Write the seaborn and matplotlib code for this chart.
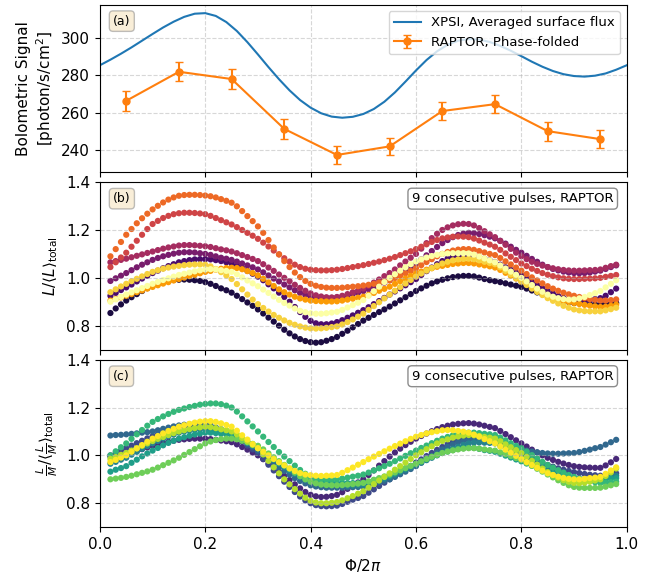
import numpy as np
import pandas as pd
import matplotlib
matplotlib.use("Agg")
import matplotlib.pyplot as plt
import seaborn as sns

# ---- panel (a): bolometric signal ----
xpsi_phase = np.round(np.arange(0.0, 1.001, 0.02), 2)
xpsi_flux = [285.4, 288.4, 291.6, 295.0, 298.6, 302.2, 305.7, 308.8, 311.4, 313.1,
             313.4, 311.9, 308.6, 303.8, 297.8, 291.2, 284.4, 277.9, 271.9, 266.7,
             262.6, 259.6, 257.8, 257.2, 257.7, 259.2, 261.9, 265.8, 270.8, 276.6,
             282.6, 288.2, 292.9, 296.4, 298.6, 299.5, 299.2, 297.9, 295.8, 293.2,
             290.3, 287.3, 284.6, 282.3, 280.6, 279.6, 279.3, 279.8, 281.0, 283.0,
             285.4]

raptor_phase = [0.05, 0.15, 0.25, 0.35, 0.45, 0.55, 0.65, 0.75, 0.85, 0.95]
raptor_flux = [266.3, 281.9, 278.0, 251.2, 237.2, 241.8, 260.8, 264.5, 250.0, 245.7]
raptor_err = [5.3, 5.0, 5.3, 5.5, 4.9, 4.5, 4.8, 4.8, 5.1, 5.0]

# ---- panels (b), (c): 9 consecutive pulses ----
pulse_phase = np.round(np.arange(0.02, 0.985, 0.01), 2)

lum_p1 = [0.853, 0.872, 0.889,
          0.905, 0.919, 0.932, 0.945, 0.957, 0.968, 0.976, 0.983, 0.988, 0.991,
          0.992, 0.993, 0.992, 0.99, 0.987, 0.982, 0.975, 0.966, 0.956, 0.948,
          0.938, 0.925, 0.911, 0.897, 0.883, 0.868, 0.851, 0.834, 0.817, 0.8,
          0.783, 0.768, 0.755, 0.744, 0.736, 0.731, 0.729, 0.731, 0.737, 0.744,
          0.753, 0.766, 0.779, 0.793, 0.807, 0.821, 0.833, 0.845, 0.857, 0.868,
          0.88, 0.893, 0.906, 0.919, 0.932, 0.945, 0.956, 0.967, 0.977, 0.985,
          0.992, 0.998, 1.003, 1.006, 1.008, 1.008, 1.006, 1.001, 0.995, 0.99,
          0.986, 0.982, 0.977, 0.972, 0.967, 0.962, 0.955, 0.947, 0.939, 0.931,
          0.923, 0.916, 0.909, 0.903, 0.899, 0.895, 0.893, 0.891, 0.89, 0.889,
          0.889, 0.89, 0.892, 0.895]
lum_p2 = [0.925, 0.937, 0.949,
          0.96, 0.972, 0.985, 0.997, 1.009, 1.02, 1.03, 1.04, 1.049, 1.057,
          1.065, 1.07, 1.074, 1.077, 1.078, 1.078, 1.077, 1.074, 1.07, 1.065,
          1.06, 1.052, 1.041, 1.029, 1.017, 1.005, 0.99, 0.973, 0.956, 0.938,
          0.92, 0.9, 0.878, 0.857, 0.837, 0.82, 0.81, 0.806, 0.806, 0.809,
          0.815, 0.823, 0.833, 0.843, 0.854, 0.865, 0.877, 0.89, 0.903, 0.916,
          0.93, 0.943, 0.956, 0.969, 0.982, 0.995, 1.012, 1.028, 1.043, 1.057,
          1.07, 1.08, 1.088, 1.093, 1.095, 1.095, 1.093, 1.087, 1.08, 1.073,
          1.065, 1.055, 1.044, 1.033, 1.021, 1.01, 0.996, 0.983, 0.97, 0.957,
          0.945, 0.934, 0.924, 0.916, 0.91, 0.905, 0.903, 0.904, 0.907, 0.911,
          0.915, 0.925, 0.94, 0.955]
lum_p3 = [0.987, 0.998, 1.009,
          1.02, 1.032, 1.044, 1.055, 1.065, 1.075, 1.083, 1.09, 1.096, 1.101,
          1.105, 1.107, 1.107, 1.106, 1.103, 1.10, 1.096, 1.09, 1.084, 1.08,
          1.075, 1.068, 1.06, 1.052, 1.044, 1.035, 1.023, 1.01, 0.997, 0.985,
          0.972, 0.96, 0.948, 0.937, 0.928, 0.922, 0.918, 0.916, 0.915, 0.916,
          0.918, 0.921, 0.926, 0.932, 0.938, 0.945, 0.953, 0.962, 0.971, 0.98,
          0.99, 1.003, 1.017, 1.031, 1.045, 1.06, 1.077, 1.094, 1.112, 1.129,
          1.145, 1.158, 1.17, 1.179, 1.185, 1.188, 1.187, 1.183, 1.178, 1.172,
          1.165, 1.155, 1.143, 1.13, 1.117, 1.105, 1.092, 1.079, 1.067, 1.055,
          1.045, 1.037, 1.031, 1.026, 1.022, 1.02, 1.019, 1.02, 1.022, 1.026,
          1.03, 1.037, 1.045, 1.052]
lum_p4 = [1.065, 1.07, 1.075,
          1.08, 1.086, 1.092, 1.098, 1.104, 1.11, 1.116, 1.122, 1.127, 1.131,
          1.135, 1.137, 1.137, 1.136, 1.134, 1.132, 1.129, 1.124, 1.119, 1.115,
          1.11, 1.103, 1.095, 1.087, 1.079, 1.07, 1.057, 1.043, 1.029, 1.014,
          1.0, 0.986, 0.971, 0.958, 0.946, 0.935, 0.927, 0.922, 0.919, 0.918,
          0.92, 0.925, 0.932, 0.94, 0.947, 0.955, 0.967, 0.98, 0.993, 1.007,
          1.02, 1.035, 1.052, 1.068, 1.084, 1.1, 1.122, 1.145, 1.166, 1.184,
          1.2, 1.211, 1.219, 1.224, 1.226, 1.225, 1.219, 1.208, 1.195, 1.182,
          1.17, 1.154, 1.138, 1.121, 1.105, 1.09, 1.078, 1.067, 1.058, 1.051,
          1.045, 1.04, 1.036, 1.033, 1.031, 1.03, 1.03, 1.031, 1.032, 1.033,
          1.035, 1.042, 1.049, 1.055]
lum_p5 = [1.045, 1.065, 1.085,
          1.105, 1.13, 1.155, 1.18, 1.204, 1.225, 1.238, 1.25, 1.259, 1.266,
          1.27, 1.272, 1.272, 1.271, 1.269, 1.266, 1.259, 1.25, 1.241, 1.232,
          1.223, 1.212, 1.2, 1.188, 1.176, 1.163, 1.147, 1.131, 1.114, 1.098,
          1.082, 1.068, 1.055, 1.045, 1.038, 1.034, 1.032, 1.031, 1.031, 1.032,
          1.034, 1.037, 1.041, 1.045, 1.049, 1.053, 1.058, 1.063, 1.068, 1.074,
          1.08, 1.087, 1.095, 1.103, 1.111, 1.12, 1.13, 1.14, 1.15, 1.158,
          1.165, 1.169, 1.172, 1.173, 1.172, 1.17, 1.164, 1.156, 1.147, 1.139,
          1.13, 1.117, 1.102, 1.088, 1.074, 1.06, 1.049, 1.038, 1.029, 1.02,
          1.013, 1.007, 1.002, 0.998, 0.996, 0.995, 0.995, 0.996, 0.997, 0.998,
          1.0, 1.004, 1.008, 1.012]
lum_p6 = [1.09, 1.12, 1.15,
          1.18, 1.204, 1.228, 1.249, 1.268, 1.286, 1.301, 1.315, 1.327, 1.336,
          1.343, 1.346, 1.347, 1.347, 1.346, 1.344, 1.341, 1.336, 1.329, 1.322,
          1.314, 1.299, 1.279, 1.258, 1.237, 1.215, 1.188, 1.158, 1.127, 1.098,
          1.07, 1.045, 1.022, 1.003, 0.987, 0.975, 0.967, 0.962, 0.959, 0.958,
          0.958, 0.959, 0.961, 0.963, 0.965, 0.968, 0.971, 0.975, 0.98, 0.985,
          0.99, 0.999, 1.009, 1.019, 1.029, 1.04, 1.053, 1.066, 1.078, 1.09,
          1.10, 1.108, 1.114, 1.118, 1.12, 1.12, 1.117, 1.112, 1.106, 1.1,
          1.095, 1.083, 1.069, 1.056, 1.043, 1.03, 1.016, 1.002, 0.989, 0.977,
          0.965, 0.955, 0.946, 0.938, 0.931, 0.925, 0.92, 0.915, 0.911, 0.908,
          0.905, 0.905, 0.907, 0.91]
lum_p7 = [0.905, 0.912, 0.918,
          0.925, 0.932, 0.94, 0.947, 0.955, 0.962, 0.969, 0.976, 0.982, 0.989,
          0.995, 1.001, 1.007, 1.013, 1.019, 1.025, 1.029, 1.034, 1.038, 1.041,
          1.042, 1.041, 1.036, 1.028, 1.02, 1.01, 0.996, 0.981, 0.966, 0.952,
          0.94, 0.93, 0.921, 0.914, 0.909, 0.905, 0.903, 0.902, 0.901, 0.901,
          0.902, 0.905, 0.909, 0.913, 0.917, 0.921, 0.929, 0.937, 0.946, 0.954,
          0.963, 0.975, 0.986, 0.997, 1.008, 1.018, 1.026, 1.034, 1.04, 1.046,
          1.05, 1.054, 1.058, 1.06, 1.062, 1.062, 1.06, 1.056, 1.052, 1.048,
          1.043, 1.033, 1.021, 1.009, 0.997, 0.985, 0.973, 0.961, 0.948, 0.936,
          0.925, 0.917, 0.909, 0.903, 0.899, 0.895, 0.891, 0.887, 0.884, 0.881,
          0.878, 0.879, 0.883, 0.888]
lum_p8 = [0.94, 0.952, 0.964,
          0.975, 0.986, 0.996, 1.006, 1.016, 1.025, 1.032, 1.038, 1.043, 1.047,
          1.05, 1.053, 1.055, 1.056, 1.056, 1.055, 1.048, 1.037, 1.024, 1.01,
          0.995, 0.974, 0.952, 0.93, 0.909, 0.89, 0.874, 0.859, 0.845, 0.833,
          0.822, 0.812, 0.804, 0.797, 0.792, 0.789, 0.788, 0.789, 0.791, 0.794,
          0.797, 0.805, 0.815, 0.826, 0.838, 0.85, 0.866, 0.882, 0.898, 0.914,
          0.93, 0.946, 0.961, 0.976, 0.991, 1.005, 1.018, 1.03, 1.041, 1.051,
          1.06, 1.067, 1.073, 1.077, 1.079, 1.08, 1.078, 1.073, 1.067, 1.062,
          1.057, 1.044, 1.029, 1.014, 0.999, 0.985, 0.97, 0.955, 0.941, 0.928,
          0.915, 0.904, 0.893, 0.883, 0.875, 0.868, 0.864, 0.861, 0.86, 0.86,
          0.86, 0.864, 0.869, 0.875]
lum_p9 = [0.9, 0.91, 0.92,
          0.93, 0.939, 0.948, 0.957, 0.966, 0.975, 0.983, 0.991, 0.998, 1.005,
          1.012, 1.017, 1.022, 1.027, 1.031, 1.035, 1.036, 1.035, 1.032, 1.029,
          1.025, 1.015, 1.002, 0.989, 0.977, 0.965, 0.951, 0.937, 0.922, 0.908,
          0.895, 0.884, 0.872, 0.862, 0.856, 0.852, 0.85, 0.85, 0.852, 0.855,
          0.858, 0.866, 0.876, 0.886, 0.896, 0.907, 0.925, 0.944, 0.963, 0.982,
          1.0, 1.015, 1.03, 1.044, 1.057, 1.068, 1.077, 1.085, 1.091, 1.096,
          1.1, 1.102, 1.103, 1.103, 1.103, 1.102, 1.097, 1.089, 1.081, 1.073,
          1.065, 1.052, 1.039, 1.026, 1.013, 1.0, 0.985, 0.97, 0.955, 0.942,
          0.93, 0.921, 0.915, 0.911, 0.909, 0.91, 0.914, 0.92, 0.928, 0.936,
          0.945, 0.96, 0.975, 0.99]

lm_p1 = [0.995, 0.998, 1.001,
         1.005, 1.011, 1.018, 1.026, 1.033, 1.04, 1.046, 1.052, 1.057, 1.061,
         1.065, 1.067, 1.069, 1.07, 1.07, 1.07, 1.068, 1.065, 1.062, 1.059,
         1.055, 1.046, 1.035, 1.024, 1.012, 1.0, 0.984, 0.966, 0.949, 0.932,
         0.915, 0.897, 0.879, 0.862, 0.847, 0.835, 0.829, 0.826, 0.827, 0.83,
         0.835, 0.846, 0.86, 0.874, 0.887, 0.9, 0.918, 0.937, 0.957, 0.976,
         0.995, 1.012, 1.028, 1.043, 1.057, 1.07, 1.081, 1.091, 1.101, 1.11,
         1.118, 1.124, 1.129, 1.132, 1.134, 1.135, 1.133, 1.129, 1.124, 1.119,
         1.114, 1.102, 1.089, 1.076, 1.063, 1.05, 1.037, 1.024, 1.012, 1.0,
         0.99, 0.981, 0.973, 0.966, 0.96, 0.955, 0.952, 0.95, 0.949, 0.948,
         0.948, 0.958, 0.971, 0.985]
lm_p2 = [1.0, 1.01, 1.02,
         1.03, 1.041, 1.051, 1.061, 1.071, 1.08, 1.089, 1.098, 1.106, 1.114,
         1.12, 1.123, 1.125, 1.126, 1.126, 1.125, 1.12, 1.113, 1.105, 1.098,
         1.09, 1.075, 1.058, 1.041, 1.025, 1.01, 0.986, 0.961, 0.937, 0.913,
         0.89, 0.868, 0.847, 0.828, 0.812, 0.8, 0.792, 0.788, 0.787, 0.788,
         0.79, 0.797, 0.806, 0.815, 0.822, 0.83, 0.844, 0.858, 0.872, 0.886,
         0.9, 0.914, 0.928, 0.942, 0.956, 0.97, 0.983, 0.997, 1.01, 1.023,
         1.035, 1.046, 1.056, 1.064, 1.07, 1.075, 1.075, 1.072, 1.068, 1.064,
         1.06, 1.051, 1.041, 1.03, 1.02, 1.01, 1.0, 0.99, 0.98, 0.97,
         0.96, 0.953, 0.946, 0.94, 0.935, 0.93, 0.926, 0.922, 0.919, 0.917,
         0.915, 0.917, 0.921, 0.925]
lm_p3 = [1.083, 1.085, 1.086,
         1.088, 1.09, 1.092, 1.095, 1.097, 1.10, 1.105, 1.111, 1.116, 1.121,
         1.125, 1.128, 1.13, 1.131, 1.131, 1.13, 1.125, 1.117, 1.109, 1.102,
         1.095, 1.081, 1.065, 1.049, 1.034, 1.02, 1.003, 0.985, 0.967, 0.95,
         0.935, 0.92, 0.905, 0.893, 0.883, 0.875, 0.87, 0.867, 0.865, 0.865,
         0.865, 0.865, 0.866, 0.867, 0.868, 0.87, 0.875, 0.881, 0.887, 0.893,
         0.9, 0.91, 0.921, 0.932, 0.943, 0.955, 0.969, 0.983, 0.998, 1.012,
         1.025, 1.036, 1.046, 1.055, 1.061, 1.065, 1.066, 1.064, 1.061, 1.058,
         1.055, 1.049, 1.043, 1.037, 1.031, 1.025, 1.02, 1.016, 1.013, 1.01,
         1.008, 1.007, 1.007, 1.008, 1.009, 1.01, 1.014, 1.019, 1.024, 1.03,
         1.035, 1.045, 1.055, 1.065]
lm_p4 = [0.965, 0.973, 0.982,
         0.99, 1.003, 1.015, 1.027, 1.039, 1.05, 1.06, 1.07, 1.079, 1.087,
         1.095, 1.1, 1.104, 1.107, 1.109, 1.11, 1.108, 1.104, 1.099, 1.095,
         1.09, 1.079, 1.067, 1.054, 1.042, 1.03, 1.014, 0.998, 0.981, 0.965,
         0.95, 0.936, 0.922, 0.909, 0.898, 0.89, 0.884, 0.879, 0.876, 0.875,
         0.875, 0.874, 0.873, 0.873, 0.874, 0.875, 0.881, 0.888, 0.895, 0.902,
         0.91, 0.92, 0.93, 0.94, 0.95, 0.96, 0.97, 0.98, 0.99, 1.0,
         1.01, 1.019, 1.028, 1.036, 1.044, 1.05, 1.053, 1.054, 1.053, 1.052,
         1.05, 1.041, 1.031, 1.021, 1.01, 1.0, 0.988, 0.976, 0.964, 0.952,
         0.94, 0.932, 0.924, 0.916, 0.91, 0.905, 0.902, 0.9, 0.9, 0.9,
         0.9, 0.905, 0.91, 0.915]
lm_p5 = [0.932, 0.94, 0.947,
         0.955, 0.969, 0.982, 0.996, 1.008, 1.02, 1.031, 1.042, 1.052, 1.061,
         1.07, 1.076, 1.082, 1.087, 1.091, 1.095, 1.095, 1.093, 1.09, 1.088,
         1.085, 1.075, 1.064, 1.053, 1.041, 1.03, 1.014, 0.998, 0.983, 0.968,
         0.955, 0.942, 0.93, 0.918, 0.908, 0.9, 0.895, 0.891, 0.888, 0.886,
         0.885, 0.884, 0.884, 0.884, 0.884, 0.885, 0.89, 0.896, 0.902, 0.908,
         0.915, 0.925, 0.935, 0.945, 0.955, 0.965, 0.974, 0.984, 0.993, 1.002,
         1.01, 1.016, 1.022, 1.027, 1.03, 1.032, 1.031, 1.027, 1.022, 1.019,
         1.015, 1.007, 0.999, 0.991, 0.983, 0.975, 0.966, 0.957, 0.948, 0.939,
         0.93, 0.923, 0.916, 0.91, 0.904, 0.9, 0.899, 0.898, 0.898, 0.898,
         0.898, 0.9, 0.903, 0.905]
lm_p6 = [1.0, 1.017, 1.034,
         1.05, 1.069, 1.088, 1.106, 1.124, 1.14, 1.152, 1.163, 1.173, 1.182,
         1.19, 1.196, 1.202, 1.207, 1.212, 1.215, 1.217, 1.217, 1.214, 1.208,
         1.2, 1.183, 1.163, 1.142, 1.121, 1.1, 1.078, 1.056, 1.035, 1.014,
         0.995, 0.976, 0.957, 0.939, 0.923, 0.91, 0.903, 0.9, 0.899, 0.899,
         0.9, 0.903, 0.907, 0.911, 0.915, 0.92, 0.928, 0.937, 0.946, 0.955,
         0.965, 0.976, 0.987, 0.998, 1.009, 1.02, 1.031, 1.041, 1.051, 1.061,
         1.07, 1.077, 1.084, 1.089, 1.093, 1.095, 1.095, 1.093, 1.09, 1.088,
         1.085, 1.075, 1.063, 1.051, 1.04, 1.03, 1.016, 1.001, 0.987, 0.973,
         0.96, 0.949, 0.938, 0.928, 0.918, 0.91, 0.903, 0.897, 0.892, 0.888,
         0.885, 0.886, 0.888, 0.89]
lm_p7 = [0.9, 0.903, 0.906,
         0.91, 0.915, 0.921, 0.927, 0.933, 0.94, 0.949, 0.959, 0.969, 0.979,
         0.99, 1.002, 1.014, 1.026, 1.038, 1.05, 1.058, 1.064, 1.068, 1.07,
         1.07, 1.067, 1.061, 1.055, 1.048, 1.04, 1.025, 1.008, 0.992, 0.976,
         0.96, 0.944, 0.928, 0.913, 0.9, 0.89, 0.883, 0.878, 0.876, 0.875,
         0.875, 0.876, 0.878, 0.88, 0.882, 0.885, 0.891, 0.898, 0.905, 0.912,
         0.92, 0.929, 0.938, 0.947, 0.956, 0.965, 0.975, 0.985, 0.994, 1.002,
         1.01, 1.016, 1.021, 1.025, 1.028, 1.03, 1.03, 1.028, 1.025, 1.022,
         1.02, 1.013, 1.005, 0.997, 0.989, 0.98, 0.968, 0.956, 0.944, 0.932,
         0.92, 0.908, 0.896, 0.885, 0.875, 0.868, 0.865, 0.864, 0.864, 0.864,
         0.865, 0.869, 0.875, 0.88]
lm_p8 = [0.985, 0.993, 1.002,
         1.01, 1.02, 1.03, 1.04, 1.05, 1.06, 1.069, 1.077, 1.085, 1.093,
         1.1, 1.105, 1.11, 1.114, 1.117, 1.12, 1.118, 1.114, 1.109, 1.105,
         1.1, 1.088, 1.073, 1.058, 1.044, 1.03, 1.004, 0.977, 0.95, 0.925,
         0.9, 0.879, 0.859, 0.84, 0.823, 0.81, 0.803, 0.8, 0.8, 0.802,
         0.805, 0.812, 0.821, 0.83, 0.84, 0.85, 0.865, 0.88, 0.895, 0.91,
         0.925, 0.94, 0.955, 0.97, 0.985, 1.0, 1.013, 1.026, 1.038, 1.05,
         1.06, 1.067, 1.074, 1.079, 1.083, 1.085, 1.084, 1.081, 1.077, 1.074,
         1.07, 1.059, 1.046, 1.034, 1.022, 1.01, 0.994, 0.977, 0.961, 0.945,
         0.93, 0.918, 0.907, 0.897, 0.89, 0.885, 0.884, 0.886, 0.89, 0.895,
         0.9, 0.914, 0.929, 0.945]
lm_p9 = [0.972, 0.981, 0.991,
         1.0, 1.015, 1.029, 1.043, 1.057, 1.07, 1.081, 1.092, 1.102, 1.111,
         1.12, 1.126, 1.132, 1.137, 1.141, 1.143, 1.143, 1.14, 1.134, 1.127,
         1.12, 1.103, 1.084, 1.066, 1.047, 1.03, 1.015, 1.0, 0.985, 0.971,
         0.958, 0.946, 0.935, 0.926, 0.92, 0.917, 0.915, 0.914, 0.915, 0.916,
         0.918, 0.927, 0.938, 0.949, 0.961, 0.972, 0.984, 0.995, 1.006, 1.017,
         1.028, 1.039, 1.049, 1.059, 1.069, 1.078, 1.085, 1.092, 1.097, 1.101,
         1.105, 1.106, 1.105, 1.102, 1.099, 1.095, 1.087, 1.078, 1.068, 1.059,
         1.05, 1.037, 1.024, 1.011, 0.998, 0.985, 0.972, 0.96, 0.948, 0.936,
         0.925, 0.918, 0.911, 0.906, 0.902, 0.9, 0.9, 0.902, 0.905, 0.907,
         0.91, 0.923, 0.937, 0.95]

lum_pulses = [lum_p1, lum_p2, lum_p3, lum_p4, lum_p5, lum_p6, lum_p7, lum_p8, lum_p9]
lm_pulses = [lm_p1, lm_p2, lm_p3, lm_p4, lm_p5, lm_p6, lm_p7, lm_p8, lm_p9]


def to_long(pulses):
    rows = []
    for i, vals in enumerate(pulses):
        for ph, v in zip(pulse_phase, vals):
            rows.append([ph, v, i + 1])
    return pd.DataFrame(rows, columns=['phase', 'value', 'pulse'])


df_lum = to_long(lum_pulses)
df_lm = to_long(lm_pulses)

inferno_cols = [plt.cm.inferno((i + 1) / 9) for i in range(9)]
viridis_cols = [plt.cm.viridis((i + 1) / 9) for i in range(9)]

fig, axes = plt.subplots(3, 1, figsize=(6.66, 5.73), dpi=100, sharex=True,
                         gridspec_kw=dict(hspace=0.06))
fig.subplots_adjust(left=0.15, right=0.941, top=0.992, bottom=0.08)

label_box = dict(boxstyle='round', facecolor='wheat', alpha=0.5, edgecolor='gray')
note_box = dict(boxstyle='round', facecolor='white', alpha=0.9, edgecolor='gray')

# (a)
ax = axes[0]
sns.lineplot(x=xpsi_phase, y=xpsi_flux, ax=ax, color='C0', linewidth=1.5,
             label='XPSI, Averaged surface flux')
ax.errorbar(raptor_phase, raptor_flux, yerr=raptor_err, fmt='-o', color='C1',
            markersize=5, capsize=3, linewidth=1.5, label='RAPTOR, Phase-folded')
ax.set_ylabel('Bolometric Signal\n[photon/s/cm$^2$]', fontsize=11)
ax.legend(loc='upper right', fontsize=9.5)
ax.set_ylim(228, 318)
ax.set_yticks([240, 260, 280, 300])
ax.text(0.025, 0.94, '(a)', transform=ax.transAxes, fontsize=9, va='top', bbox=label_box)

# (b)
ax = axes[1]
sns.scatterplot(data=df_lum, x='phase', y='value', hue='pulse', palette=inferno_cols,
                s=20, linewidth=0, legend=False, ax=ax)
ax.set_ylabel(r'$L/\langle L\rangle_{\mathrm{total}}$', fontsize=11)
ax.text(0.025, 0.94, '(b)', transform=ax.transAxes, fontsize=9, va='top', bbox=label_box)
ax.text(0.975, 0.94, '9 consecutive pulses, RAPTOR', transform=ax.transAxes,
        fontsize=9.5, va='top', ha='right', bbox=note_box)

# (c)
ax = axes[2]
sns.scatterplot(data=df_lm, x='phase', y='value', hue='pulse', palette=viridis_cols,
                s=20, linewidth=0, legend=False, ax=ax)
ax.set_ylabel(r'$\frac{L}{M}/\langle\frac{L}{M}\rangle_{\mathrm{total}}$', fontsize=11)
ax.text(0.025, 0.94, '(c)', transform=ax.transAxes, fontsize=9, va='top', bbox=label_box)
ax.text(0.975, 0.94, '9 consecutive pulses, RAPTOR', transform=ax.transAxes,
        fontsize=9.5, va='top', ha='right', bbox=note_box)
ax.set_xlabel(r'$\Phi/2\pi$', fontsize=11)

for ax in axes[1:]:
    ax.set_ylim(0.7, 1.4)
    ax.set_yticks([0.8, 1.0, 1.2, 1.4])

for ax in axes:
    ax.set_xlim(0, 1)
    ax.grid(True, linestyle='--', alpha=0.5)
    ax.tick_params(labelsize=11)

fig.savefig('out.png', dpi=100)
